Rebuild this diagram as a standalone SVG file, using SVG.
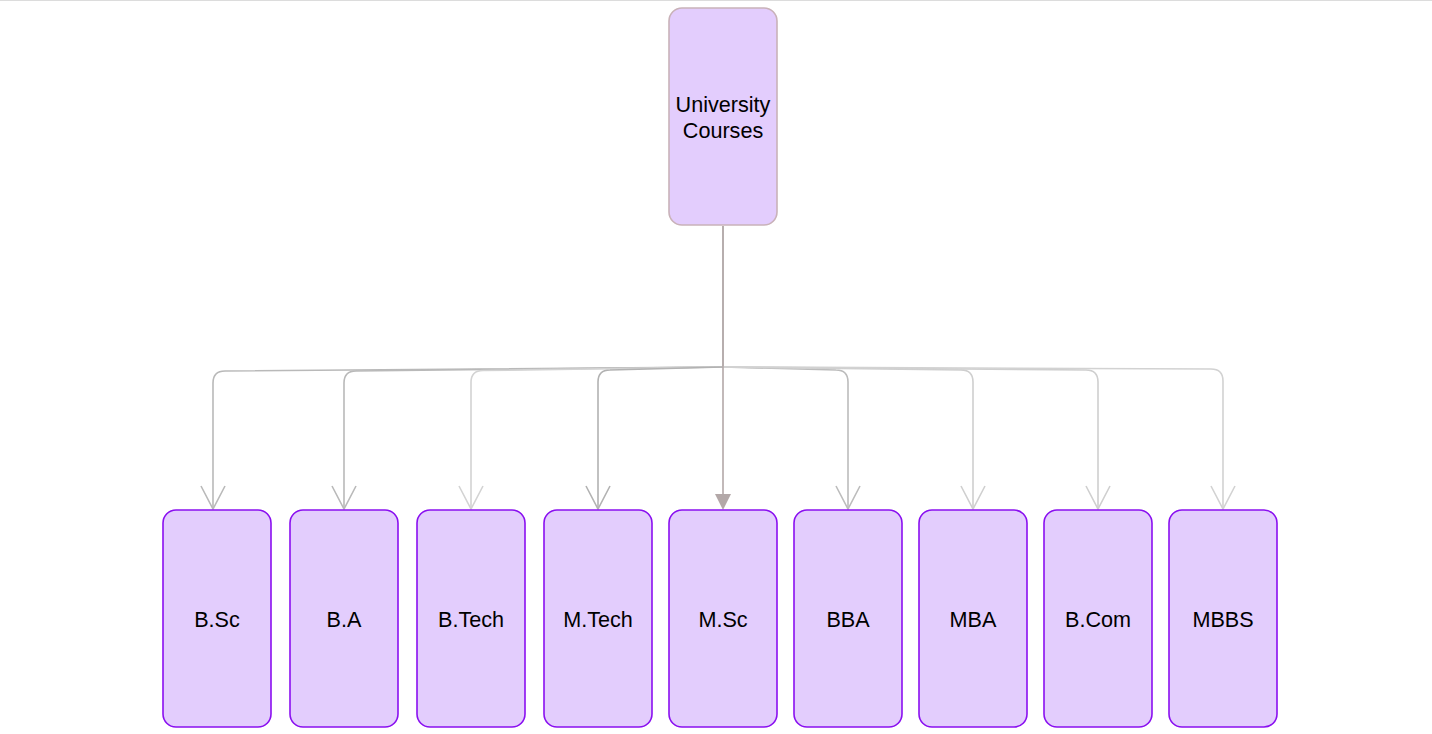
<svg xmlns="http://www.w3.org/2000/svg" width="1432" height="734" viewBox="0 0 1432 734">
<style>
.node rect{fill:#e3cdfd;stroke:#8a10f0;stroke-width:1.6}
#root rect{stroke:#c9b2b9}
.node text{font-family:"Liberation Sans",Arial,sans-serif;font-size:21.6px;fill:#000;text-anchor:middle}
.edge{fill:none;stroke-width:1.6}
.head{fill:none;stroke-width:1.6}
</style>
<rect width="1432" height="734" fill="#fff"/>
<line x1="0" y1="0.5" x2="1432" y2="0.5" stroke="#dcdcdc" stroke-width="1"/>
<g id="connectors">
<path class="edge" stroke="#b9b9b9" d="M723,226 L723,367 L225,371 Q213,371 213,383 L213,508"/>
<path class="edge" stroke="#b9b9b9" d="M723,367 L356,371 Q344,371 344,383 L344,508"/>
<path class="edge" stroke="#d3d3d3" d="M723,367 L483,370.5 Q471,370.5 471,382.5 L471,508"/>
<path class="edge" stroke="#b2b2b2" d="M723,367 L610,370 Q598,370 598,382 L598,508"/>
<path class="edge" stroke="#bcbcbc" d="M723,367 L836,370 Q848,370 848,382 L848,508"/>
<path class="edge" stroke="#cfcfcf" d="M723,367 L961,370 Q973,370 973,382 L973,508"/>
<path class="edge" stroke="#cfcfcf" d="M723,367 L1086,370 Q1098,370 1098,382 L1098,508"/>
<path class="edge" stroke="#d2d2d2" d="M723,367 L1211,369 Q1223,369 1223,381 L1223,508"/>
<path class="edge" stroke="#b3a8a8" d="M723,226 L723,494"/>
<path class="head" stroke="#b9b9b9" d="M201,486 L213,509 L225,486"/>
<path class="head" stroke="#b9b9b9" d="M332,486 L344,509 L356,486"/>
<path class="head" stroke="#d3d3d3" d="M459,486 L471,509 L483,486"/>
<path class="head" stroke="#b2b2b2" d="M586,486 L598,509 L610,486"/>
<path class="head" stroke="#bcbcbc" d="M836,486 L848,509 L860,486"/>
<path class="head" stroke="#cfcfcf" d="M961,486 L973,509 L985,486"/>
<path class="head" stroke="#cfcfcf" d="M1086,486 L1098,509 L1110,486"/>
<path class="head" stroke="#d2d2d2" d="M1211,486 L1223,509 L1235,486"/>
<path d="M715,494 L723,510 L731,494 Z" fill="#b3a8a8"/>
</g>
<g id="root" class="node"><rect x="669" y="8" width="108" height="217" rx="13"/><text x="723" y="112">University</text><text x="723" y="138">Courses</text></g>
<g id="bsc" class="node"><rect x="163" y="510" width="108" height="217" rx="13"/><text x="217" y="627">B.Sc</text></g>
<g id="ba" class="node"><rect x="290" y="510" width="108" height="217" rx="13"/><text x="344" y="627">B.A</text></g>
<g id="btech" class="node"><rect x="417" y="510" width="108" height="217" rx="13"/><text x="471" y="627">B.Tech</text></g>
<g id="mtech" class="node"><rect x="544" y="510" width="108" height="217" rx="13"/><text x="598" y="627">M.Tech</text></g>
<g id="msc" class="node"><rect x="669" y="510" width="108" height="217" rx="13"/><text x="723" y="627">M.Sc</text></g>
<g id="bba" class="node"><rect x="794" y="510" width="108" height="217" rx="13"/><text x="848" y="627">BBA</text></g>
<g id="mba" class="node"><rect x="919" y="510" width="108" height="217" rx="13"/><text x="973" y="627">MBA</text></g>
<g id="bcom" class="node"><rect x="1044" y="510" width="108" height="217" rx="13"/><text x="1098" y="627">B.Com</text></g>
<g id="mbbs" class="node"><rect x="1169" y="510" width="108" height="217" rx="13"/><text x="1223" y="627">MBBS</text></g>
</svg>
